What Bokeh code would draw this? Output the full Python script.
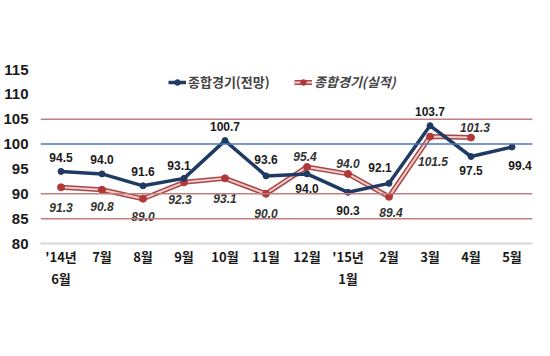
from bokeh.plotting import figure
from bokeh.models import ColumnDataSource, Span, Legend, LegendItem, FixedTicker
from bokeh.core.properties import value
from bokeh.embed import file_html
from bokeh.resources import INLINE

months = ["'14년\n6월", "7월", "8월", "9월", "10월", "11월", "12월", "'15년\n1월", "2월", "3월", "4월", "5월"]
forecast = [94.5, 94.0, 91.6, 93.1, 100.7, 93.6, 94.0, 90.3, 92.1, 103.7, 97.5, 99.4]
actual = [91.3, 90.8, 89.0, 92.3, 93.1, 90.0, 95.4, 94.0, 89.4, 101.5, 101.3]
forecast_labels = ["94.5", "94.0", "91.6", "93.1", "100.7", "93.6", "94.0", "90.3", "92.1", "103.7", "97.5", "99.4"]
actual_labels = ["91.3", "90.8", "89.0", "92.3", "93.1", "90.0", "95.4", "94.0", "89.4", "101.5", "101.3"]
y_ticks = [80, 85, 90, 95, 100, 105, 110, 115]
red_lines = [85, 90, 105]
blue_line = 100

# label offsets in screen pixels (positive = down)
f_dy = [-14, -14, -14, -13, -14, -16, 15, 18, -16, -14, 14, 18]
f_dx = [0, 0, 0, -5, 0, 0, 0, 0, -9, 0, 0, 8]
a_dy = [20, 17, 18, 17, 20, 20, -10, -10, 16, 25, -10]
a_dx = [0, 0, 0, -4, 0, 0, -2, 0, 2, 3, 4]

src_f = ColumnDataSource(dict(x=months, y=forecast, t=forecast_labels, dx=f_dx, dy=f_dy))
src_a = ColumnDataSource(dict(x=months[:len(actual)], y=actual, t=actual_labels, dx=a_dx, dy=a_dy))

p = figure(x_range=months, y_range=(80, 115), width=534, height=300,
           output_backend="svg", toolbar_location=None,
           min_border_left=36, min_border_right=2, min_border_top=69, min_border_bottom=57)
p.outline_line_color = None
p.xgrid.grid_line_color = None
p.ygrid.grid_line_color = None
p.background_fill_color = "white"
p.border_fill_color = "white"

for v in red_lines:
    p.add_layout(Span(location=v, dimension="width", line_color="#c08080", line_width=1.5))
p.add_layout(Span(location=blue_line, dimension="width", line_color="#4a78b8", line_width=1.5))

# axes
p.yaxis.ticker = FixedTicker(ticks=y_ticks)
p.yaxis.axis_line_color = None
p.yaxis.major_tick_line_color = None
p.yaxis.minor_tick_line_color = None
p.yaxis.major_label_text_font = "Liberation Sans"
p.yaxis.major_label_text_font_style = "bold"
p.yaxis.major_label_text_font_size = "15px"
p.yaxis.major_label_text_color = "#1a1a1a"
p.yaxis.major_label_standoff = 6

p.xaxis.axis_line_color = "#d8d8d8"
p.xaxis.axis_line_width = 2
p.xaxis.major_tick_line_color = None
p.xaxis.minor_tick_line_color = None
p.xaxis.major_label_text_font = "Noto Sans CJK KR"
p.xaxis.major_label_text_font_style = "bold"
p.xaxis.major_label_text_font_size = "13px"
p.xaxis.major_label_text_color = "#1a1a1a"
p.xaxis.major_label_standoff = -3

# actual (red double line)
ra1 = p.line("x", "y", source=src_a, line_color="#a84848", line_width=5)
ra2 = p.line("x", "y", source=src_a, line_color="#f2cccc", line_width=2)
ra3 = p.scatter("x", "y", source=src_a, size=7, fill_color="#b03838", line_color="#b03838")

# forecast (blue)
rf1 = p.line("x", "y", source=src_f, line_color="#1f3a63", line_width=3.5)
rf2 = p.scatter("x", "y", source=src_f, size=6, fill_color="#1f3a63", line_color="#1f3a63")

p.text("x", "y", text="t", source=src_f, x_offset="dx", y_offset="dy",
       text_font=value("Liberation Sans"), text_font_style="bold", text_font_size="12px",
       text_color="#1a1a1a", text_align="center", text_baseline="middle")
p.text("x", "y", text="t", source=src_a, x_offset="dx", y_offset="dy",
       text_font=value("Liberation Sans"), text_font_style="bold italic", text_font_size="12px",
       text_color="#333333", text_align="center", text_baseline="middle")

leg1 = Legend(items=[LegendItem(label="종합경기(전망)", renderers=[rf1, rf2])],
              location=(128, 152), orientation="horizontal", border_line_color=None,
              background_fill_alpha=0, padding=0, margin=0, glyph_width=18, glyph_height=14,
              label_text_font="Noto Sans CJK KR", label_text_font_style="bold",
              label_text_font_size="13px", label_standoff=2)
leg2 = Legend(items=[LegendItem(label="종합경기(실적)", renderers=[ra1, ra2, ra3])],
              location=(254, 152), orientation="horizontal", border_line_color=None,
              background_fill_alpha=0, padding=0, margin=0, glyph_width=18, glyph_height=14,
              label_text_font="Noto Sans CJK KR", label_text_font_style="bold italic",
              label_text_font_size="13px", label_standoff=2)
p.add_layout(leg1)
p.add_layout(leg2)

open("out.html", "w").write(file_html(p, INLINE))
